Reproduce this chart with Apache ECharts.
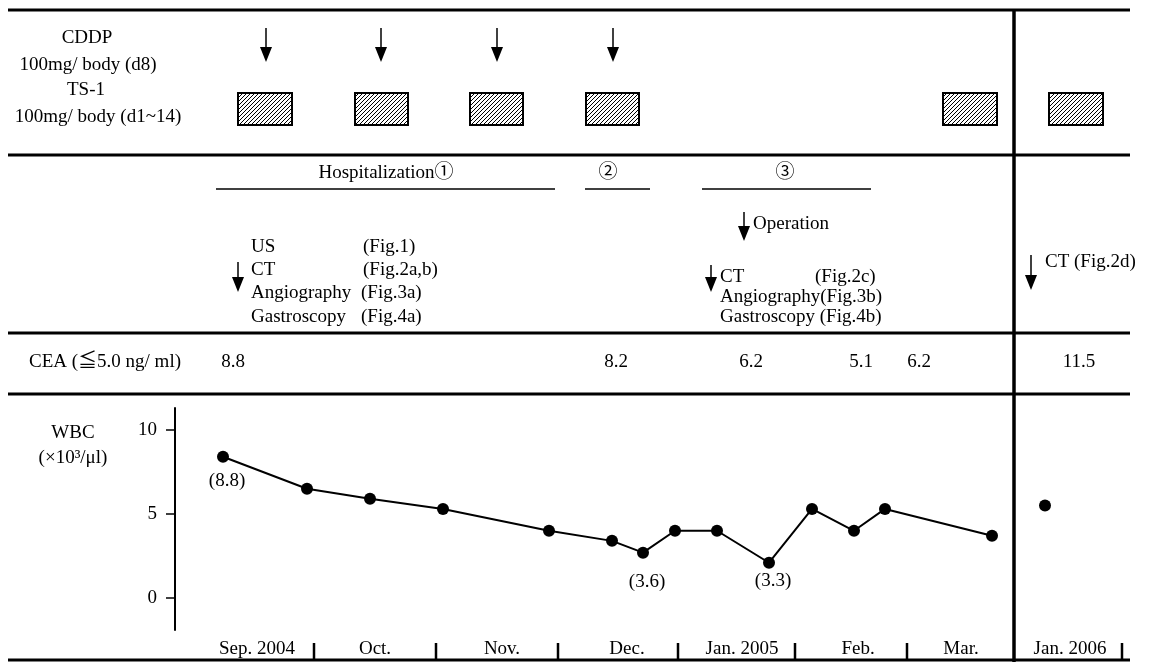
<!DOCTYPE html>
<html>
<head>
<meta charset="utf-8">
<script src="https://cdn.jsdelivr.net/npm/echarts@6/dist/echarts.min.js"></script>
<style>
  html, body { margin: 0; padding: 0; background: #fff; }
  #main { width: 1152px; height: 662px; }
</style>
</head>
<body>
<div id="main"></div>
<script>
// timeline positions (schematic, not to scale) and values
var wbcPos = [223, 307, 370, 443, 549, 612, 643, 675, 717, 769, 812, 854, 885, 992];
var wbcVal = [8.4, 6.5, 5.9, 5.3, 4.0, 3.4, 2.7, 4.0, 4.0, 2.1, 5.3, 4.0, 5.3, 3.7];
var noteIdx = [0, 6, 9];
var noteText = ['(8.8)', '(3.6)', '(3.3)'];
var noteGap = [9, 14, 3];
var wbc2006Pos = [1045];
var wbc2006Val = [5.5];

var ceaPos = [233, 616, 751, 861, 919, 1079];
var ceaVal = [8.8, 8.2, 6.2, 5.1, 6.2, 11.5];

var cddpPos = [266, 381, 497, 613];
var ts1Start = [238, 355, 470, 586, 943, 1049];
var ts1End = [292, 408, 523, 639, 997, 1103];

var monthNames = ['Sep. 2004', 'Oct.', 'Nov.', 'Dec.', 'Jan. 2005', 'Feb.', 'Mar.', 'Jan. 2006'];
var monthMid = [257, 375, 502, 627, 742, 858, 961, 1070];
var monthEdge = [314, 436, 558, 678, 795, 907, 1122];
var yTicks = [0, 5, 10];

var FONT = '"Liberation Serif", "Times New Roman", "Noto Sans CJK JP", serif';

var chart = echarts.init(document.getElementById('main'));

var wbcData = wbcPos.map(function (x, i) {
    var item = { value: [x, wbcVal[i]] };
    var k = noteIdx.indexOf(i);
    if (k >= 0) {
        item.label = {
            show: true, position: 'bottom', distance: noteGap[k], offset: [4, 0],
            formatter: noteText[k], color: '#000', fontSize: 19, fontFamily: FONT
        };
    }
    return item;
});

chart.setOption({
    backgroundColor: '#fff',
    animation: false,
    grid: [
        { left: 175, width: 977, top: 408, height: 222, containLabel: false, outerBoundsMode: 'none' },
        { left: 175, width: 977, top: 340, height: 44, containLabel: false, outerBoundsMode: 'none' }
    ],
    xAxis: [
        {
            type: 'value', gridIndex: 0, min: 175, max: 1152, position: 'bottom', offset: 30,
            axisLine: { show: false },
            splitLine: { show: false },
            axisTick: { show: false },
            axisLabel: { show: true, inside: true, margin: 1, customValues: monthMid,
                color: '#000', fontSize: 19, fontFamily: FONT,
                formatter: function (v) { return monthNames[monthMid.indexOf(v)]; } }
        },
        { type: 'value', gridIndex: 1, min: 175, max: 1152, show: false }
    ],
    yAxis: [
        {
            type: 'value', gridIndex: 0, min: -1.9, max: 11.3,
            axisLine: { show: true, lineStyle: { color: '#000', width: 2 } },
            axisTick: { show: true, length: 9, customValues: yTicks, lineStyle: { color: '#000', width: 1.5 } },
            axisLabel: { show: true, margin: 18, customValues: yTicks, color: '#000', fontSize: 19, fontFamily: FONT },
            splitLine: { show: false }
        },
        { type: 'value', gridIndex: 1, min: 0, max: 1, show: false }
    ],
    series: [
        {
            type: 'line', xAxisIndex: 0, yAxisIndex: 0,
            data: wbcData,
            symbol: 'circle', symbolSize: 12,
            itemStyle: { color: '#000', opacity: 1 },
            lineStyle: { color: '#000', width: 2 }
        },
        {
            type: 'scatter', xAxisIndex: 0, yAxisIndex: 0,
            data: wbc2006Pos.map(function (x, i) { return [x, wbc2006Val[i]]; }),
            symbol: 'circle', symbolSize: 12,
            itemStyle: { color: '#000', opacity: 1 }
        },
        {
            type: 'scatter', xAxisIndex: 1, yAxisIndex: 1,
            data: ceaPos.map(function (x, i) { return [x, 0.5, ceaVal[i]]; }),
            symbolSize: 0,
            itemStyle: { color: '#000', opacity: 1 },
            label: {
                show: true, position: 'inside', color: '#000', opacity: 1, fontSize: 19, fontFamily: FONT,
                formatter: function (p) { return p.value[2].toFixed(1); }
            }
        }
    ]
});

// hatch pattern for the TS-1 boxes
var pat = document.createElement('canvas');
pat.width = 4; pat.height = 4;
var pc = pat.getContext('2d');
pc.fillStyle = '#fff';
pc.fillRect(0, 0, 4, 4);
pc.strokeStyle = '#000';
pc.lineWidth = 1;
pc.beginPath();
pc.moveTo(0, 4); pc.lineTo(4, 0);
pc.moveTo(-1, 1); pc.lineTo(1, -1);
pc.moveTo(3, 5); pc.lineTo(5, 3);
pc.stroke();

function px(v) {
    return chart.convertToPixel({ xAxisIndex: 0 }, v);
}
function hline(x1, x2, y, w) {
    return { type: 'line', shape: { x1: x1, y1: y, x2: x2, y2: y }, style: { stroke: '#000', lineWidth: w } };
}
function txt(s, x, y, align, size) {
    return {
        type: 'text',
        style: {
            text: s, x: x, y: y, fill: '#000',
            font: (size || 19) + 'px ' + FONT,
            align: align || 'left', verticalAlign: 'middle',
            textAlign: align || 'left', textVerticalAlign: 'middle'
        }
    };
}
function arrow(x, y1, y2) {
    return {
        type: 'group',
        children: [
            { type: 'line', shape: { x1: x, y1: y1, x2: x, y2: y2 - 12 }, style: { stroke: '#000', lineWidth: 1.5 } },
            { type: 'polygon', shape: { points: [[x - 6, y2 - 15], [x + 6, y2 - 15], [x, y2]] }, style: { fill: '#000' } }
        ]
    };
}

var g = [];
// table rules
[10, 155, 333, 394, 660].forEach(function (y) { g.push(hline(8, 1130, y, 3)); });
g.push({ type: 'line', shape: { x1: 1014, y1: 9, x2: 1014, y2: 662 }, style: { stroke: '#000', lineWidth: 3.5 } });

// month separators on the bottom rule
monthEdge.forEach(function (x) {
    var p = px(x);
    g.push({ type: 'line', shape: { x1: p, y1: 643, x2: p, y2: 660 }, style: { stroke: '#000', lineWidth: 2.5 } });
});

// row labels
g.push(txt('CDDP', 87, 38, 'center'));
g.push(txt('100mg/ body (d8)', 88, 65, 'center'));
g.push(txt('TS-1', 86, 90, 'center'));
g.push(txt('100mg/ body (d1~14)', 98, 117, 'center'));
g.push(txt('CEA (≦5.0 ng/ ml)', 29, 362, 'left'));
g.push(txt('WBC', 73, 433, 'center'));
g.push(txt('(×10³/μl)', 73, 458, 'center'));

// CDDP and TS-1
cddpPos.forEach(function (x) { g.push(arrow(px(x), 28, 62)); });
ts1Start.forEach(function (x, i) {
    var a = px(x), b = px(ts1End[i]);
    g.push({ type: 'rect', shape: { x: a, y: 93, width: b - a, height: 32 },
        style: { fill: { image: pat, repeat: 'repeat' }, stroke: '#000', lineWidth: 2 } });
});

// hospitalization periods
g.push(txt('Hospitalization①', 386, 173, 'center'));
g.push(txt('②', 608, 173, 'center'));
g.push(txt('③', 785, 173, 'center'));
g.push(hline(px(216), px(555), 189, 1.5));
g.push(hline(px(585), px(650), 189, 1.5));
g.push(hline(px(702), px(871), 189, 1.5));

// examinations
g.push(arrow(px(238), 262, 292));
g.push(txt('US', 251, 247));
g.push(txt('(Fig.1)', 363, 247));
g.push(txt('CT', 251, 270));
g.push(txt('(Fig.2a,b)', 363, 270));
g.push(txt('Angiography', 251, 293));
g.push(txt('(Fig.3a)', 361, 293));
g.push(txt('Gastroscopy', 251, 317));
g.push(txt('(Fig.4a)', 361, 317));

g.push(arrow(px(744), 212, 241));
g.push(txt('Operation', 753, 224));

g.push(arrow(px(711), 265, 292));
g.push(txt('CT', 720, 277));
g.push(txt('(Fig.2c)', 815, 277));
g.push(txt('Angiography(Fig.3b)', 720, 297));
g.push(txt('Gastroscopy (Fig.4b)', 720, 317));

g.push(arrow(px(1031), 255, 290));
g.push(txt('CT (Fig.2d)', 1045, 262));

chart.setOption({ graphic: g });
</script>
</body>
</html>
